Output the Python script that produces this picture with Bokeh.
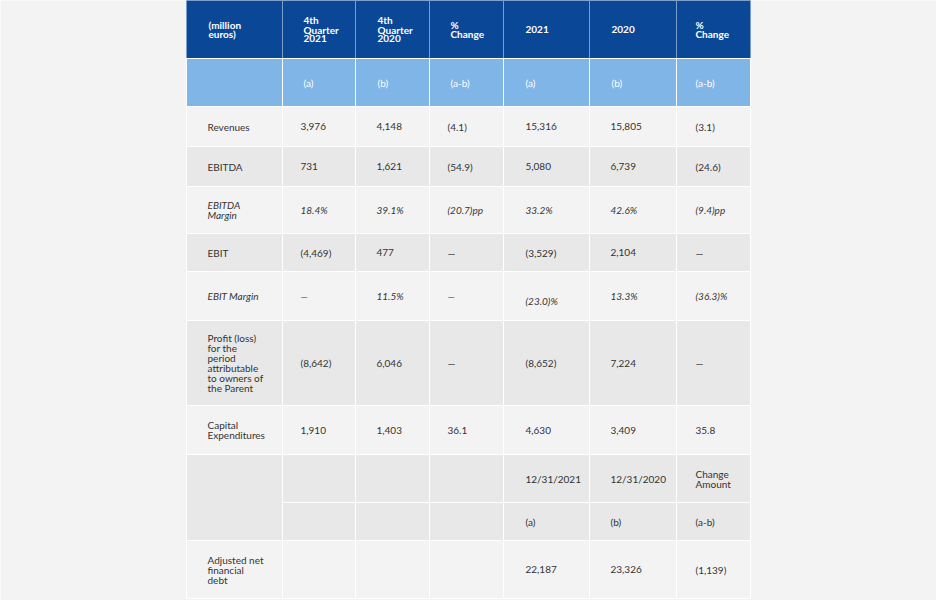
from bokeh.plotting import figure
from bokeh.models import Range1d, ColumnDataSource
from bokeh.embed import file_html
from bokeh.resources import INLINE
from bokeh.core.properties import value

# ---------------- data ----------------
header_labels = ["(million\neuros)", "4th\nQuarter\n2021", "4th\nQuarter\n2020", "%\nChange",
                 "2021", "2020", "%\nChange"]
sub_labels = ["", "(a)", "(b)", "(a-b)", "(a)", "(b)", "(a-b)"]
row_labels = ["Revenues", "EBITDA", "EBITDA\nMargin", "EBIT", "EBIT Margin",
              "Profit (loss)\nfor the\nperiod\nattributable\nto owners of\nthe Parent",
              "Capital\nExpenditures", "", "", "Adjusted net\nfinancial\ndebt"]
q4_2021 = ["3,976", "731", "18.4%", "(4,469)", "\u2014", "(8,642)", "1,910", "", "", ""]
q4_2020 = ["4,148", "1,621", "39.1%", "477", "11.5%", "6,046", "1,403", "", "", ""]
q4_change = ["(4.1)", "(54.9)", "(20.7)pp", "\u2014", "\u2014", "\u2014", "36.1", "", "", ""]
fy_2021 = ["15,316", "5,080", "33.2%", "(3,529)", "(23.0)%", "(8,652)", "4,630", "12/31/2021", "(a)", "22,187"]
fy_2020 = ["15,805", "6,739", "42.6%", "2,104", "13.3%", "7,224", "3,409", "12/31/2020", "(b)", "23,326"]
fy_change = ["(3.1)", "(24.6)", "(9.4)pp", "\u2014", "(36.3)%", "\u2014", "35.8", "Change\nAmount", "(a-b)", "(1,139)"]
italic_rows = [2, 4]

# ---------------- layout ----------------
W, H = 936, 600
M = 0  # offset between picture and data coordinates
col_edges = [186, 282, 355, 429, 503, 589, 676, 750]
row_edges = [0, 58, 106, 146, 186, 233, 271, 320, 405, 454, 502, 540, 598]
pads = [21, 18, 21, 18, 22, 21, 19]
head_pads = [22, 21, 22, 21, 22, 22, 19]
row_fill = ["#f3f3f3", "#e8e8e8", "#f3f3f3", "#e8e8e8", "#f3f3f3", "#e8e8e8",
            "#f3f3f3", "#e8e8e8", "#e8e8e8", "#f3f3f3"]
BG = "#f3f3f3"
DARK_BLUE = "#0b4797"
LIGHT_BLUE = "#80b5e8"
TXT = "#333333"
FONT = "Lato"

p = figure(width=W, height=H, output_backend="svg", toolbar_location=None,
           x_range=Range1d(0, W), y_range=Range1d(H, 0),
           min_border=0, min_border_left=0, min_border_right=0,
           min_border_top=0, min_border_bottom=0)
p.axis.visible = False
p.grid.visible = False
p.outline_line_color = None
p.background_fill_color = BG
p.border_fill_color = BG

columns = [row_labels, q4_2021, q4_2020, q4_change, fy_2021, fy_2020, fy_change]

# ---- cells ----
L, R, T, B, F, LC = [], [], [], [], [], []
for c in range(7):
    L.append(col_edges[c] - M); R.append(col_edges[c + 1] - M)
    T.append(row_edges[0] - M - 2); B.append(row_edges[1] - M)
    F.append(DARK_BLUE); LC.append("#7a9dcc")
for c in range(7):
    L.append(col_edges[c] - M); R.append(col_edges[c + 1] - M)
    T.append(row_edges[1] - M); B.append(row_edges[2] - M)
    F.append(LIGHT_BLUE); LC.append("#ffffff")
n_rows = len(row_labels)
for r in range(n_rows):
    for c in range(7):
        if c == 0 and r == 8:
            continue
        top = row_edges[r + 2] - M
        bot = row_edges[r + 3] - M
        if c == 0 and r == 7:
            bot = row_edges[r + 4] - M
        L.append(col_edges[c] - M); R.append(col_edges[c + 1] - M)
        T.append(top); B.append(bot)
        F.append(row_fill[r]); LC.append("#ffffff")

p.quad(left=L, right=R, top=T, bottom=B, fill_color=F, line_color=LC, line_width=1)


def add_lines(store, x, cy, text, lh, style):
    lines = text.split("\n")
    n = len(lines)
    for i, ln in enumerate(lines):
        store["x"].append(x)
        store["y"].append(cy + (i - (n - 1) / 2) * lh)
        store["text"].append(ln)
        store["style"].append(style)


# ---- header texts ----
hd = dict(x=[], y=[], text=[], style=[])
for c in range(7):
    add_lines(hd, col_edges[c] + head_pads[c] - M, (row_edges[0] + row_edges[1]) / 2 - M,
              header_labels[c], 9.4, "bold")
p.text(x="x", y="y", text="text", source=ColumnDataSource(hd), text_color="white",
       text_font=value(FONT), text_font_style="bold", text_font_size="10px",
       text_baseline="middle", text_align="left")

sb = dict(x=[], y=[], text=[], style=[])
for c in range(7):
    if sub_labels[c]:
        add_lines(sb, col_edges[c] + head_pads[c] - M, (row_edges[1] + row_edges[2]) / 2 - M,
                  sub_labels[c], 10, "normal")
p.text(x="x", y="y", text="text", source=ColumnDataSource(sb), text_color="white",
       text_font=value(FONT), text_font_size="10px", text_baseline="middle",
       text_align="left")

# ---- body texts ----
nudge = {(4, 4): 5}
bd = dict(x=[], y=[], text=[], style=[])
for r in range(n_rows):
    for c in range(7):
        t = columns[c][r]
        if not t:
            continue
        cy = (row_edges[r + 2] + row_edges[r + 3]) / 2 - M + nudge.get((r, c), 0)
        add_lines(bd, col_edges[c] + pads[c] - M, cy, t, 10,
                  "italic" if r in italic_rows else "normal")
p.text(x="x", y="y", text="text", source=ColumnDataSource(bd), text_color=TXT,
       text_font=value(FONT), text_font_style="style", text_font_size="10px",
       text_baseline="middle", text_align="left")

open("out.html", "w").write(file_html(p, INLINE))
